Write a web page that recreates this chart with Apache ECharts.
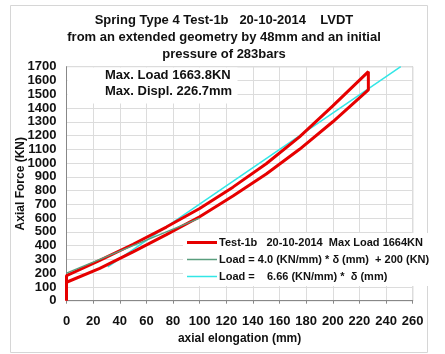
<!DOCTYPE html>
<html>
<head>
<meta charset="utf-8">
<script src="https://cdn.jsdelivr.net/npm/echarts@6/dist/echarts.min.js"></script>
<style>
html,body{margin:0;padding:0;background:#fff;}
#chart{width:445px;height:354px;}
</style>
</head>
<body>
<div id="chart"></div>
<script>
// ---- data ----
const titleLines = ['Spring Type 4 Test-1b   20-10-2014    LVDT', 'from an extended geometry by 48mm and an initial', 'pressure of 283bars'];
const noteLines = ['Max. Load 1663.8KN', 'Max. Displ. 226.7mm'];
const seriesNames = ['Test-1b   20-10-2014  Max Load 1664KN', 'Load = 4.0 (KN/mm) * \u03b4 (mm)  + 200 (KN)', 'Load =    6.66 (KN/mm) *  \u03b4 (mm)'];

// Test-1b loop: start, loading branch, unloading branch
const startDisp = [0];
const startLoad = [0];
const upperDisp = [0, 25, 50, 75, 100, 125, 150, 175, 200, 226.7];
const upperLoad = [182, 293, 410, 535, 670, 825, 995, 1190, 1415, 1663.8];
const lowerDisp = [226.7, 200, 175, 150, 125, 100, 75, 50, 25, 0];
const lowerLoad = [1531, 1300, 1100, 920, 760, 610, 480, 355, 235, 134];

// linear fits
const greenDisp = [0, 100];
const greenLoad = [200, 600];
const cyanDisp = [31, 251];
const cyanLoad = [245, 1700];

const xMin = 0, xMax = 260, xStep = 20;
const yMin = 0, yMax = 1700, yStep = 100;

function pairs(xs, ys) { return xs.map((x, i) => [x, ys[i]]); }
const testData = pairs(startDisp, startLoad).concat(pairs(upperDisp, upperLoad), pairs(lowerDisp, lowerLoad));

const chart = echarts.init(document.getElementById('chart'), null, {renderer: 'canvas'});
const font = 'Liberation Sans, Arial, sans-serif';

chart.setOption({
  animation: false,
  backgroundColor: '#fff',
  title: {
    text: titleLines.join('\n'),
    left: 219, textAlign: 'center', top: 7,
    textStyle: {fontFamily: font, fontSize: 13, fontWeight: 'bold', color: '#111', lineHeight: 17}
  },
  grid: {left: 66.5, right: 32.3, top: 66.7, bottom: 53.3, show: true, borderColor: '#a6a6a6', borderWidth: 1, backgroundColor: 'transparent'},
  legend: {
    orient: 'vertical', left: 183, top: 233,
    itemWidth: 30, itemHeight: 14, itemGap: 6,
    padding: [4, 6, 4, 4],
    backgroundColor: '#fff',
    symbolKeepAspect: true,
    textStyle: {fontFamily: font, fontSize: 11, fontWeight: 'bold', color: '#111', padding: [0, 0, 0, -3]},
    data: [
      {name: seriesNames[0], icon: 'path://M0,0H20V2H0Z'},
      {name: seriesNames[1], icon: 'path://M0,0H40V2H0Z'},
      {name: seriesNames[2], icon: 'path://M0,0H40V2H0Z'}
    ]
  },
  xAxis: {
    type: 'value', min: xMin, max: xMax, interval: xStep,
    name: 'axial elongation (mm)', nameLocation: 'middle', nameGap: 32, nameMoveOverlap: false,
    nameTextStyle: {fontFamily: font, fontSize: 12, fontWeight: 'bold', color: '#111'},
    axisLine: {show: true, lineStyle: {color: '#888', width: 1}},
    axisTick: {show: true, length: 3, lineStyle: {color: '#888'}},
    axisLabel: {fontFamily: font, fontSize: 13, fontWeight: 'bold', color: '#111', margin: 14, formatter: v => String(v)},
    splitLine: {show: true, lineStyle: {color: '#dcdcdc', width: 1}}
  },
  yAxis: {
    type: 'value', min: yMin, max: yMax, interval: yStep,
    name: 'Axial Force (KN)', nameLocation: 'middle', nameGap: 40, nameRotate: 90, nameMoveOverlap: false,
    nameTextStyle: {fontFamily: font, fontSize: 12, fontWeight: 'bold', color: '#111'},
    axisLine: {show: true, lineStyle: {color: '#888', width: 1}},
    axisTick: {show: false},
    axisLabel: {fontFamily: font, fontSize: 13, fontWeight: 'bold', color: '#111', margin: 10, formatter: v => String(v)},
    splitLine: {show: true, lineStyle: {color: '#dcdcdc', width: 1}}
  },
  graphic: [
    {type: 'rect', left: 8, top: 3, shape: {width: 417, height: 347}, style: {fill: 'none', stroke: '#d6d6d6', lineWidth: 1}, z: 0, silent: true},
    {type: 'rect', left: 67.5, top: 67.5, shape: {width: 170, height: 36}, style: {fill: '#fff'}, z: 1, silent: true},
    {type: 'text', left: 105, top: 69, style: {text: noteLines[0], fontFamily: font, fontSize: 13, fontWeight: 'bold', fill: '#111'}, z: 2},
    {type: 'text', left: 105, top: 85, style: {text: noteLines[1], fontFamily: font, fontSize: 13, fontWeight: 'bold', fill: '#111'}, z: 2}
  ],
  series: [
    {name: seriesNames[0], type: 'line', data: testData, showSymbol: false, symbol: 'none',
     lineStyle: {color: '#e60000', width: 3}, itemStyle: {color: '#e60000'}, z: 3},
    {name: seriesNames[1], type: 'line', data: pairs(greenDisp, greenLoad), showSymbol: false, symbol: 'none',
     lineStyle: {color: '#5a9e7e', width: 1.5}, itemStyle: {color: '#5a9e7e'}, z: 4},
    {name: seriesNames[2], type: 'line', data: pairs(cyanDisp, cyanLoad), showSymbol: false, symbol: 'none',
     lineStyle: {color: '#33e6e6', width: 1.5}, itemStyle: {color: '#33e6e6'}, z: 2}
  ]
});
</script>
</body>
</html>
